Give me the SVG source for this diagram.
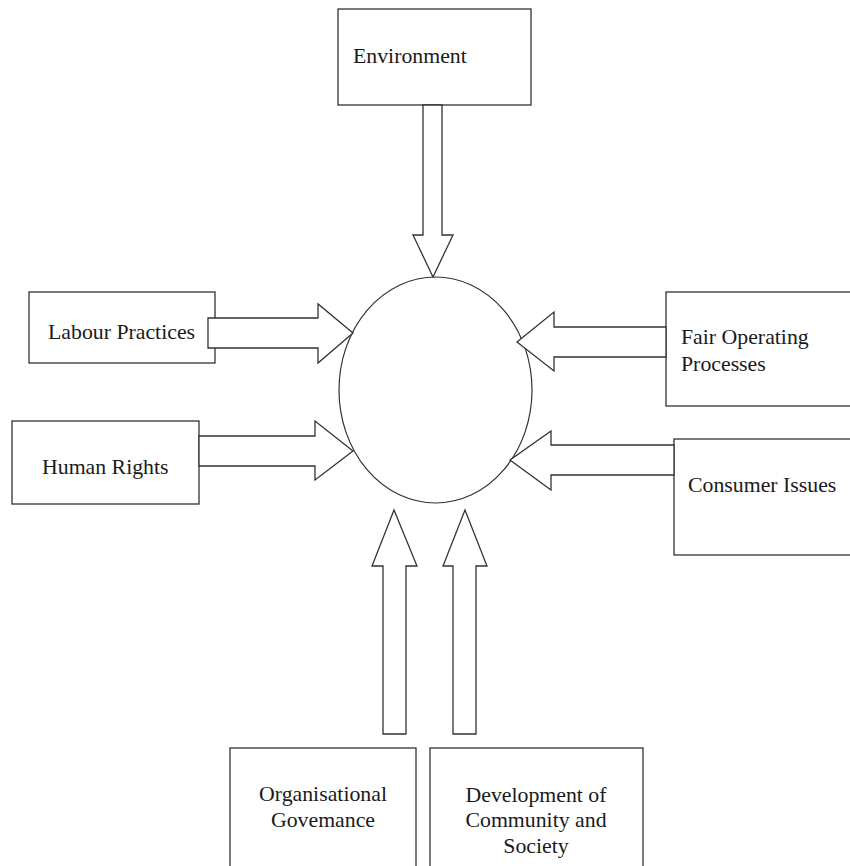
<svg xmlns="http://www.w3.org/2000/svg" width="850" height="866" viewBox="0 0 850 866">
  <style>
    .box { fill: #fff; stroke: #333; stroke-width: 1.3; }
    .arrow { fill: #fff; stroke: #333; stroke-width: 1.3; stroke-linejoin: miter; }
    .hub { fill: #fff; stroke: #333; stroke-width: 1.2; }
    .label { font-family: "Liberation Serif", "Times New Roman", serif; font-size: 21.8px; fill: #1a1a1a; }
    .mid { text-anchor: middle; }
  </style>
  <rect width="850" height="866" fill="#fff"/>

  <!-- central hub -->
  <g id="hub">
    <ellipse class="hub" cx="435.5" cy="390" rx="96.5" ry="113"/>
  </g>

  <g id="environment">
    <rect class="box" x="338" y="9" width="193" height="96"/>
    <text class="label" x="353" y="63">Environment</text>
  </g>

  <g id="labour-practices">
    <rect class="box" x="29" y="292" width="186" height="71"/>
    <text class="label" x="48" y="339">Labour Practices</text>
  </g>

  <g id="human-rights">
    <rect class="box" x="12" y="421" width="187" height="83"/>
    <text class="label" x="42" y="474">Human Rights</text>
  </g>

  <g id="fair-operating">
    <rect class="box" x="666" y="292" width="200" height="114"/>
    <text class="label" x="681" y="344">Fair Operating</text>
    <text class="label" x="681" y="371">Processes</text>
  </g>

  <g id="consumer-issues">
    <rect class="box" x="674" y="439" width="200" height="116"/>
    <text class="label" x="688" y="492">Consumer Issues</text>
  </g>

  <g id="organisational-governance">
    <rect class="box" x="230" y="748" width="186" height="140"/>
    <text class="label mid" x="323" y="801">Organisational</text>
    <text class="label mid" x="323" y="827">Govemance</text>
  </g>

  <g id="community-development">
    <rect class="box" x="430" y="748" width="213" height="140"/>
    <text class="label mid" x="536" y="802">Development of</text>
    <text class="label mid" x="536" y="827">Community and</text>
    <text class="label mid" x="536" y="853">Society</text>
  </g>

  <!-- block arrows pointing into the hub -->
  <g id="connectors">
    <polygon class="arrow" points="423,105 442,105 442,235 453,235 433,277 413,235 423,235"/>
    <polygon class="arrow" points="208,318 318,318 318,304 353,333 318,363 318,348 208,348"/>
    <polygon class="arrow" points="199,436 315,436 315,421 353,451 315,480 315,466 199,466"/>
    <polygon class="arrow" points="666,327 554,327 554,312 517,342 554,371 554,357 666,357"/>
    <polygon class="arrow" points="674,445 551,445 551,431 510,460 551,490 551,475 674,475"/>
    <polygon class="arrow" points="383,734 383,566 372,566 394,510 417,566 406,566 406,734"/>
    <polygon class="arrow" points="453,734 453,566 443,566 465,510 487,566 476,566 476,734"/>
  </g>
</svg>
